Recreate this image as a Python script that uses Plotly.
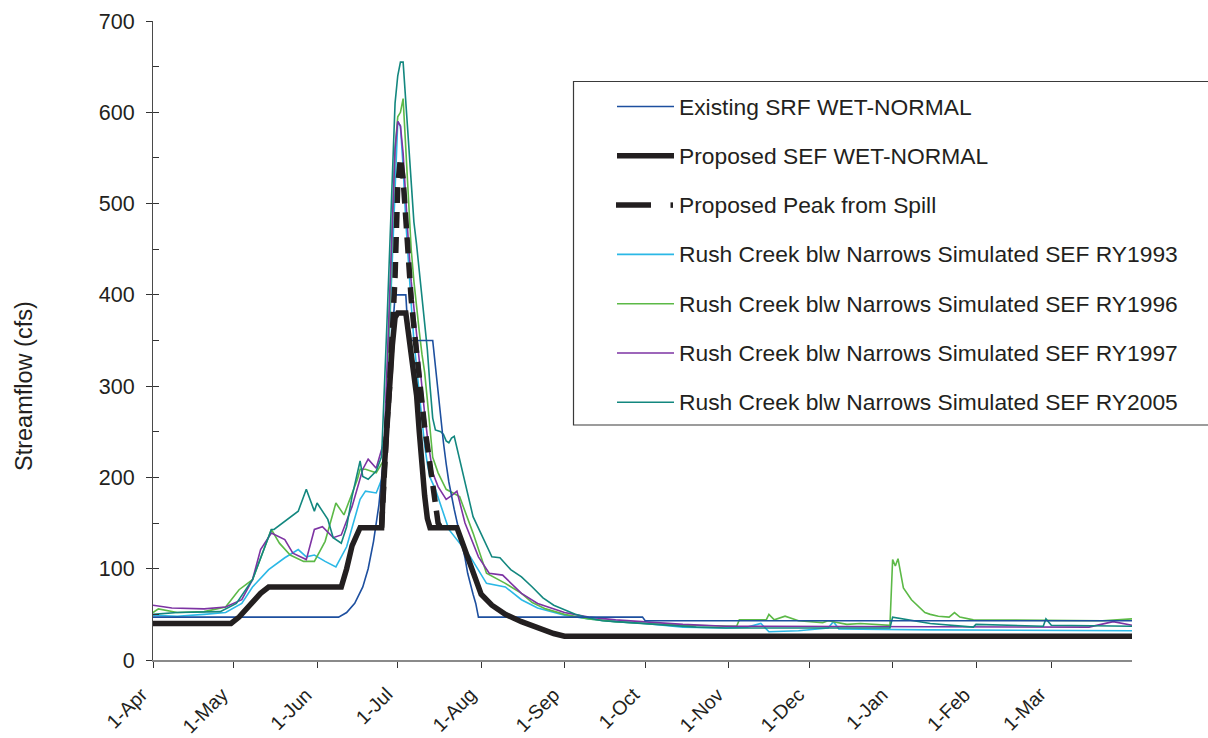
import plotly.graph_objects as go

# ---------------------------------------------------------------------------
# Rush Creek streamflow schedules, runoff year April 1 - March 31 (cfs)
# Dates are month-day; April-December fall in the first calendar year.
# ---------------------------------------------------------------------------
existing_dates = ["04-01", "06-09", "06-12", "06-15", "06-18", "06-20", "06-22", "06-24",
                  "06-26", "06-28", "06-30", "07-04", "07-05", "07-14", "07-15", "07-16",
                  "07-17", "07-18", "07-19", "07-20", "07-22", "07-24", "07-26", "07-27",
                  "07-28", "07-29", "07-30", "07-31", "09-30", "10-01", "03-31"]
existing_vals = [47, 47, 52, 62, 80, 100, 130, 170, 230, 310, 400, 400, 350, 350, 320, 290,
                 262, 238, 215, 195, 165, 140, 112, 95, 82, 72, 62, 47, 47, 43, 43]

proposed_dates = ["04-01", "04-30", "05-03", "05-07", "05-11", "05-14", "06-10", "06-12",
                  "06-14", "06-17", "06-25", "06-26", "06-27", "06-28", "06-29", "06-30",
                  "07-01", "07-04", "07-05", "07-06", "07-07", "07-08", "07-09", "07-10",
                  "07-11", "07-12", "07-13", "07-23", "07-26", "07-29", "08-01", "08-05",
                  "08-10", "08-16", "08-22", "08-28", "09-01", "03-31"]
proposed_vals = [40, 40, 47, 60, 73, 80, 80, 100, 125, 145, 145, 210, 260, 305, 345, 375,
                 380, 380, 360, 335, 315, 290, 250, 210, 180, 155, 145, 145, 120, 95, 72, 60,
                 50, 42, 35, 29, 26, 26]

spill_dates = ["06-25", "06-26", "06-27", "06-28", "06-29", "06-30", "07-01", "07-02",
               "07-03", "07-04", "07-05", "07-06", "07-07", "07-08", "07-09", "07-10",
               "07-11", "07-12", "07-13", "07-14", "07-15", "07-16", "07-17"]
spill_vals = [145, 210, 260, 300, 350, 420, 520, 550, 527, 480, 430, 395, 365, 335, 300,
              275, 255, 235, 212, 194, 170, 150, 145]

ry1993_dates = ["04-01", "04-10", "04-20", "04-28", "05-04", "05-08", "05-14", "05-20",
                "05-25", "05-28", "05-31", "06-04", "06-08", "06-12", "06-17", "06-19",
                "06-23", "06-26", "06-27", "06-28", "06-29", "06-30", "07-01", "07-02",
                "07-03", "07-04", "07-05", "07-06", "07-07", "07-08", "07-09", "07-10",
                "07-11", "07-12", "07-13", "07-15", "07-20", "07-28", "08-03", "08-10",
                "08-16", "08-22", "09-01", "09-10", "09-20", "10-01", "10-15", "10-31",
                "11-08", "11-13", "11-16", "11-27", "12-08", "12-10", "12-12", "01-15",
                "03-31"]
ry1993_vals = [49, 48, 50, 52, 62, 80, 99, 112, 121, 113, 115, 108, 102, 124, 176, 185,
               183, 205, 290, 370, 450, 530, 590, 585, 540, 480, 430, 390, 350, 320, 290,
               260, 235, 215, 200, 187, 143, 113, 84, 80, 66, 57, 49, 45, 42, 40, 36, 35,
               36, 40, 31, 32, 35, 42, 34, 33, 32]

ry1996_dates = ["04-01", "04-03", "04-10", "04-20", "04-28", "05-03", "05-08", "05-15",
                "05-18", "05-22", "05-27", "05-31", "06-04", "06-08", "06-11", "06-16",
                "06-17", "06-19", "06-23", "06-26", "06-27", "06-28", "06-29", "06-30",
                "07-01", "07-02", "07-03", "07-04", "07-05", "07-06", "07-07", "07-08",
                "07-09", "07-10", "07-11", "07-12", "07-13", "07-14", "07-16", "07-19",
                "07-24", "07-29", "08-03", "08-10", "08-16", "08-20", "08-25", "09-01",
                "09-10", "09-20", "10-01", "10-15", "11-04", "11-05", "11-15", "11-16",
                "11-18", "11-22", "11-27", "12-06", "12-08", "12-15", "12-20", "12-31",
                "01-01", "01-02", "01-03", "01-05", "01-08", "01-13", "01-15", "01-18",
                "01-22", "01-24", "01-26", "01-31", "03-20", "03-31"]
ry1996_vals = [52, 56, 52, 53, 58, 77, 88, 143, 128, 115, 108, 108, 130, 172, 159, 198,
               209, 209, 205, 220, 300, 380, 460, 560, 595, 600, 615, 560, 500, 450, 415,
               385, 360, 335, 315, 285, 250, 222, 205, 187, 179, 139, 95, 84, 73, 63, 56,
               50, 45, 42, 40, 38, 37, 44, 44, 50, 44, 48, 43, 41, 43, 39, 40, 38, 110, 103,
               111, 79, 66, 52, 50, 48, 47, 52, 47, 44, 43, 45]

ry1997_dates = ["04-01", "04-08", "04-20", "04-28", "05-04", "05-08", "05-11", "05-15",
                "05-20", "05-23", "05-28", "05-31", "06-03", "06-07", "06-10", "06-14",
                "06-18", "06-20", "06-23", "06-26", "06-27", "06-28", "06-29", "06-30",
                "07-01", "07-02", "07-03", "07-04", "07-05", "07-06", "07-07", "07-08",
                "07-09", "07-10", "07-11", "07-12", "07-13", "07-14", "07-16", "07-19",
                "07-21", "07-23", "07-26", "07-31", "08-04", "08-09", "08-16", "08-22",
                "09-01", "09-10", "09-20", "10-01", "10-15", "10-31", "03-15", "03-24",
                "03-31"]
ry1997_vals = [60, 57, 56, 58, 66, 88, 121, 139, 132, 117, 110, 143, 146, 134, 137, 168,
               209, 220, 210, 241, 320, 400, 480, 560, 590, 585, 555, 500, 455, 415, 385,
               355, 330, 300, 270, 245, 222, 205, 190, 176, 180, 185, 150, 113, 95, 93, 73,
               62, 52, 47, 44, 42, 39, 37, 36, 42, 38]

ry2005_dates = ["04-01", "04-10", "04-26", "05-02", "05-08", "05-15", "05-16", "05-20",
                "05-25", "05-28", "05-31", "06-01", "06-05", "06-07", "06-10", "06-12",
                "06-14", "06-17", "06-18", "06-20", "06-23", "06-25", "06-26", "06-27",
                "06-28", "06-29", "06-30", "07-01", "07-02", "07-03", "07-04", "07-05",
                "07-06", "07-07", "07-08", "07-09", "07-10", "07-11", "07-12", "07-13",
                "07-14", "07-15", "07-17", "07-18", "07-19", "07-20", "07-21", "07-22",
                "07-23", "07-24", "07-26", "07-29", "08-05", "08-08", "08-12", "08-16",
                "08-20", "08-24", "08-28", "09-01", "09-05", "09-10", "09-15", "09-20",
                "09-30", "10-10", "10-20", "10-31", "12-31", "01-01", "01-15", "01-31",
                "02-01", "02-26", "02-27", "03-01", "03-31"]
ry2005_vals = [50, 52, 53, 62, 88, 143, 143, 152, 163, 187, 163, 172, 154, 134, 128, 146,
               179, 218, 201, 198, 207, 223, 290, 370, 450, 530, 610, 640, 655, 655, 610,
               565, 520, 480, 455, 425, 395, 365, 340, 300, 265, 252, 250, 247, 240, 238,
               243, 245, 232, 219, 195, 157, 113, 112, 99, 91, 80, 68, 60, 55, 50, 46, 43,
               42, 40, 38, 36, 35, 35, 47, 40, 36, 39, 37, 45, 38, 37]

month_ticks = ["04-01", "05-01", "06-01", "07-01", "08-01", "09-01", "10-01", "11-01",
               "12-01", "01-01", "02-01", "03-01"]
month_labels = ["1-Apr", "1-May", "1-Jun", "1-Jul", "1-Aug", "1-Sep", "1-Oct", "1-Nov",
                "1-Dec", "1-Jan", "1-Feb", "1-Mar"]


def to_date(md):
    year = 2005 if int(md[:2]) >= 4 else 2006
    return f"{year}-{md}"


series = [
    ("Existing SRF WET-NORMAL", existing_dates, existing_vals, "#1d4f9f", 1.6, "solid"),
    ("Proposed SEF WET-NORMAL", proposed_dates, proposed_vals, "#231f20", 5.5, "solid"),
    ("Proposed Peak from Spill", spill_dates, spill_vals, "#231f20", 5.5, "16px,9px"),
    ("Rush Creek blw Narrows Simulated SEF RY1993", ry1993_dates, ry1993_vals, "#2bb8e6", 1.6, "solid"),
    ("Rush Creek blw Narrows Simulated SEF RY1996", ry1996_dates, ry1996_vals, "#5cb947", 1.6, "solid"),
    ("Rush Creek blw Narrows Simulated SEF RY1997", ry1997_dates, ry1997_vals, "#7d33a3", 1.6, "solid"),
    ("Rush Creek blw Narrows Simulated SEF RY2005", ry2005_dates, ry2005_vals, "#13877f", 1.6, "solid"),
]

# draw order: thin simulated lines first, schedules on top
draw_order = [3, 4, 5, 6, 0, 2, 1]

fig = go.Figure()
for i in draw_order:
    name, dates, vals, color, width, dash = series[i]
    fig.add_trace(go.Scatter(
        x=[to_date(d) for d in dates], y=vals, mode="lines", name=name,
        line=dict(color=color, width=width, dash=dash), showlegend=False,
    ))

# companion axis that carries the inner 50-cfs tick marks
fig.add_trace(go.Scatter(x=[], y=[], yaxis="y2", showlegend=False, hoverinfo="skip"))

# plot area in pixels
L, R, T, B = 153, 1132, 21, 660
W, H = 1208, 738


def px_x(p):
    return (p - L) / (R - L)


def px_y(p):
    return (B - p) / (B - T)


font_family = "Liberation Sans, Arial, sans-serif"
text_color = "#231f20"

# legend box and entries
shapes = [dict(type="rect", xref="paper", yref="paper",
               x0=px_x(573.5), x1=px_x(1225), y0=px_y(425), y1=px_y(81.5),
               line=dict(color="#3a3a3a", width=1.2), fillcolor="white", layer="above")]
annotations = []
row0, row_step = 106.5, 49.3
for k, (name, _, _, color, width, dash) in enumerate(series):
    yy = row0 + k * row_step
    if dash == "solid":
        shapes.append(dict(type="line", xref="paper", yref="paper",
                           x0=px_x(617), x1=px_x(674), y0=px_y(yy), y1=px_y(yy),
                           line=dict(color=color, width=width), layer="above"))
    else:
        shapes.append(dict(type="line", xref="paper", yref="paper",
                           x0=px_x(616), x1=px_x(651), y0=px_y(yy), y1=px_y(yy),
                           line=dict(color=color, width=width), layer="above"))
        shapes.append(dict(type="line", xref="paper", yref="paper",
                           x0=px_x(670.5), x1=px_x(673), y0=px_y(yy), y1=px_y(yy),
                           line=dict(color=color, width=width), layer="above"))
    annotations.append(dict(text=name, xref="paper", yref="paper", x=px_x(677), y=px_y(yy),
                            xanchor="left", yanchor="middle", showarrow=False,
                            font=dict(family=font_family, size=22.8, color=text_color)))

# slanted month labels, right end tucked just left of each tick
for md, label in zip(month_ticks, month_labels):
    annotations.append(dict(text=label, xref="x", yref="paper", x=to_date(md), y=px_y(682),
                            xanchor="right", yanchor="top", xshift=0, textangle=-45,
                            showarrow=False, borderpad=0,
                            font=dict(family=font_family, size=19.5, color=text_color)))

annotations.append(dict(text="Streamflow (cfs)", xref="paper", yref="paper",
                        x=px_x(24), y=px_y(386), textangle=-90, showarrow=False,
                        xanchor="center", yanchor="middle",
                        font=dict(family=font_family, size=23.5, color=text_color)))

fig.update_layout(
    width=W, height=H,
    margin=dict(l=L, r=W - R, t=T, b=H - B, pad=0, autoexpand=False),
    paper_bgcolor="white", plot_bgcolor="white",
    font=dict(family=font_family, size=21.5, color=text_color),
    showlegend=False,
    xaxis=dict(
        type="date", range=[to_date("04-01"), to_date("03-31")], automargin=False,
        tickvals=[to_date(d) for d in month_ticks], showticklabels=False,
        ticks="outside", ticklen=6, tickwidth=1.2, tickcolor="#333333",
        showline=True, linecolor="#8a8a8a", linewidth=2, showgrid=False, zeroline=False,
    ),
    yaxis=dict(
        range=[0, 700], tickvals=[0, 100, 200, 300, 400, 500, 600, 700], automargin=False,
        ticks="outside", ticklen=6, tickwidth=1.2, tickcolor="#333333",
        showline=True, linecolor="#4a4a4a", linewidth=1.2, showgrid=False, zeroline=False,
        ticklabelstandoff=7,
        tickfont=dict(family=font_family, size=21.5, color=text_color),
    ),
    yaxis2=dict(
        range=[0, 700], overlaying="y", side="left", tickmode="linear", tick0=0, dtick=50,
        ticks="inside", ticklen=6, tickwidth=1.2, tickcolor="#333333", automargin=False,
        showticklabels=False, showline=False, showgrid=False, zeroline=False,
    ),
    shapes=shapes,
    annotations=annotations,
)

fig.write_html("out.html")
